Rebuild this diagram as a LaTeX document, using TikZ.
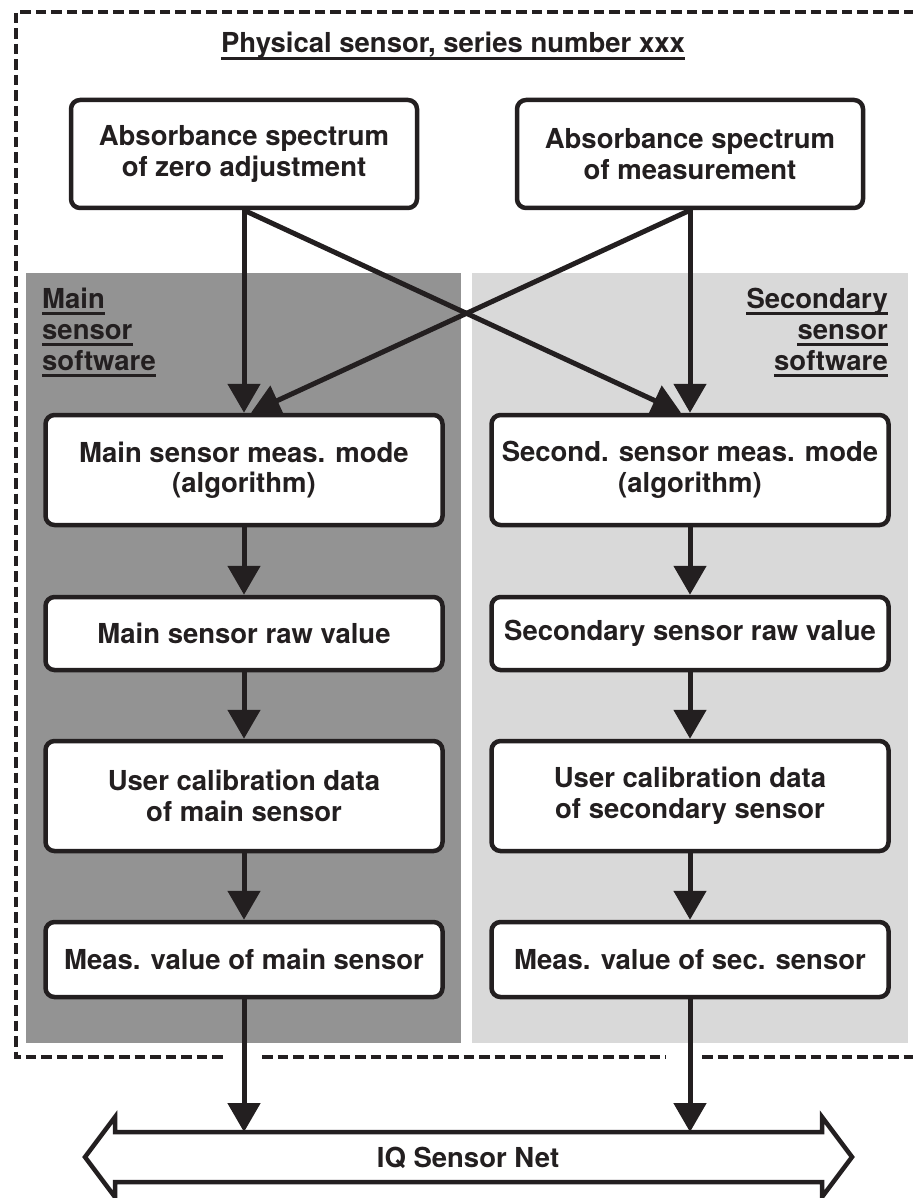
\documentclass[tikz,border=0pt]{standalone}
\usepackage{fontspec}
\setmainfont{TeX Gyre Heros}
\usetikzlibrary{arrows.meta}
\definecolor{ink}{RGB}{35,31,32}
\definecolor{darkpanel}{RGB}{147,147,147}
\definecolor{lightpanel}{RGB}{217,217,217}
\begin{document}
\begin{tikzpicture}[x=1pt,y=-1pt,
  font=\fontsize{27.5}{30.5}\selectfont\bfseries,
  box/.style={draw=ink, line width=4.5pt, rounded corners=9pt, fill=white, align=center, text=ink, inner sep=0pt},
  colbox/.style={box, minimum width=397pt},
  topbox/.style={box, minimum width=346pt, minimum height=108pt},
  arr/.style={draw=ink, line width=5pt, -{Triangle[length=29pt,width=32pt]}},
  outline/.style={draw=ink, line width=4.2pt, dash pattern=on 10.5pt off 5pt},
  lbl/.style={text=ink, inner sep=0pt},
  uline/.style={draw=ink, line width=2.5pt}]

\useasboundingbox (0,0) rectangle (912,1198);
\fill[white] (0,0) rectangle (912,1198);

% software panels
\fill[darkpanel] (26,273) rectangle (461,1043);
\fill[lightpanel] (472,273) rectangle (908,1043);

% physical sensor dashed frame
\draw[outline] (914,12) -- (16,12) -- (16,1057) -- (226,1057);
\draw[outline] (262,1057) -- (666,1057);
\draw[outline] (702,1057) -- (914,1057);

% title
\node[lbl, anchor=base] (title) at (453,53) {Physical sensor, series number xxx};
\draw[uline] ([yshift=-5.5pt]title.base west) -- ([yshift=-5.5pt]title.base east);

% panel labels
\node[lbl, anchor=base west] (ml_a) at (42,308) {Main};
\node[lbl, anchor=base west] (ml_b) at (42,339) {sensor};
\node[lbl, anchor=base west] (ml_c) at (42,370) {software};
\node[lbl, anchor=base east] (sl_a) at (888,308) {Secondary};
\node[lbl, anchor=base east] (sl_b) at (888,339) {sensor};
\node[lbl, anchor=base east] (sl_c) at (888,370) {software};
\foreach \n in {ml_a,ml_b,ml_c,sl_a,sl_b,sl_c}
  \draw[uline] ([yshift=-5.5pt]\n.base west) -- ([yshift=-5.5pt]\n.base east);

% top boxes
\node[topbox] (tl) at (244,154) {Absorbance spectrum\\of zero adjustment};
\node[topbox] (tr) at (690,154) {Absorbance spectrum\\of measurement};

% columns
\node[colbox, minimum height=110pt] (ml1) at (244,470) {Main sensor meas. mode\\(algorithm)};
\node[colbox, minimum height=110pt] (mr1) at (690,470) {Second. sensor meas. mode\\(algorithm)};
\node[colbox, minimum height=73pt] (ml2) at (244,633.5) {Main sensor raw value};
\node[colbox, minimum height=73pt] (mr2) at (690,633.5) {Secondary sensor raw value};
\node[colbox, minimum height=110pt] (ml3) at (244,796) {User calibration data\\of main sensor};
\node[colbox, minimum height=110pt] (mr3) at (690,796) {User calibration data\\of secondary sensor};
\node[colbox, minimum height=75pt] (ml4) at (244,959.5) {Meas. value of main sensor};
\node[colbox, minimum height=75pt] (mr4) at (690,959.5) {Meas. value of sec. sensor};

% IQ Sensor Net double arrow
\draw[ink, line width=4.5pt, fill=white, line join=miter]
  (115,1132) -- (822,1132) -- (822,1117) -- (852,1157) -- (822,1197) -- (822,1182)
  -- (115,1182) -- (115,1197) -- (85,1157) -- (115,1117) -- cycle;
\node[lbl] (net) at (468,1158) {IQ Sensor Net};
\coordinate (netL) at (244,1132);
\coordinate (netR) at (690,1132);

% connectors
\draw[arr] (tl.south) -- ([xshift=-9pt]mr1.north);
\draw[arr] (tr.south) -- ([xshift=7pt]ml1.north);
\draw[arr] (tl.south) -- (ml1.north);
\draw[arr] (tr.south) -- (mr1.north);
\draw[arr] (ml1) -- (ml2);
\draw[arr] (ml2) -- (ml3);
\draw[arr] (ml3) -- (ml4);
\draw[arr] (mr1) -- (mr2);
\draw[arr] (mr2) -- (mr3);
\draw[arr] (mr3) -- (mr4);
\draw[arr] (ml4) -- (netL);
\draw[arr] (mr4) -- (netR);
\end{tikzpicture}
\end{document}
